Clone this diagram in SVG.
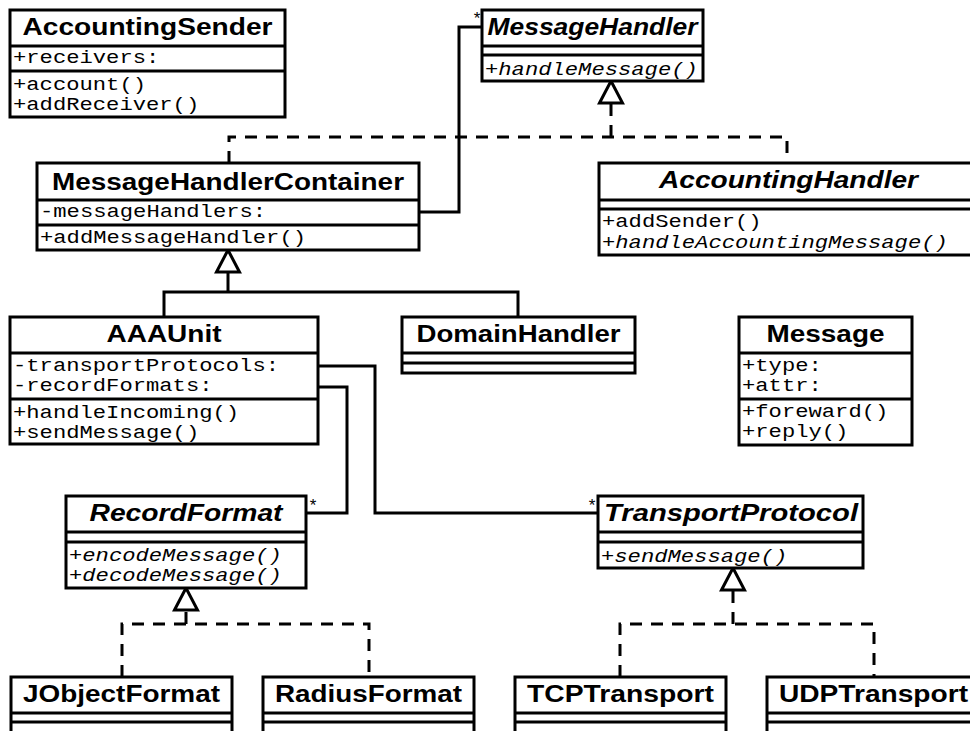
<svg xmlns="http://www.w3.org/2000/svg" width="970" height="731" viewBox="0 0 970 731">
  <style>
    .box { fill: #fff; stroke: #000; stroke-width: 3; }
    .sep { fill: none; stroke: #000; stroke-width: 3; }
    .title { font-family: "Liberation Sans", Arial, Helvetica, sans-serif; font-weight: bold; font-size: 23px; text-anchor: middle; fill: #000; }
    .abstract { font-style: italic; }
    .member { font-family: "Liberation Mono", "Courier New", monospace; font-size: 19px; fill: #000; }
    .assoc { fill: none; stroke: #000; stroke-width: 3; }
    .real { fill: none; stroke: #000; stroke-width: 3; stroke-dasharray: 12 9; }
    .stem { fill: none; stroke: #000; stroke-width: 3; marker-end: url(#hollow); }
    .stem-dash { fill: none; stroke: #000; stroke-width: 3; stroke-dasharray: 12 9; marker-end: url(#hollow); }
    .mult { font-family: "Liberation Sans", Arial, sans-serif; font-size: 17px; text-anchor: middle; fill: #000; }
  </style>
  <defs>
    <!-- hollow triangle for generalization / realization -->
    <marker id="hollow" markerUnits="userSpaceOnUse" viewBox="-2 -14 26 28" markerWidth="26" markerHeight="28" refX="22" refY="0" orient="auto" overflow="visible">
      <path d="M0,-11.5 L22,0 L0,11.5 Z" fill="#fff" stroke="#000" stroke-width="3" stroke-linejoin="miter"/>
    </marker>
  </defs>

  <rect width="970" height="731" fill="#fff"/>

  <g id="connectors">
    <!-- MessageHandlerContainer, AccountingHandler realize MessageHandler -->
    <path class="real" d="M229,163 V137 H787 V163"/>
    <path class="stem-dash" d="M611,137 V81"/>
    <!-- AAAUnit, DomainHandler extend MessageHandlerContainer -->
    <path class="assoc" d="M164,317 V292 H518 V317"/>
    <path class="stem" d="M228,292 V250"/>
    <!-- container holds many handlers -->
    <path class="assoc" d="M419,212 H459 V27 H482"/>
    <text class="mult" x="477" y="24">*</text>
    <!-- AAAUnit associations -->
    <path class="assoc" d="M318,366 H375 V513 H598"/>
    <text class="mult" x="592" y="511">*</text>
    <path class="assoc" d="M318,387 H347 V513 H306"/>
    <text class="mult" x="313" y="511">*</text>
    <!-- record format implementations -->
    <path class="real" d="M122,677 V624 H369 V677"/>
    <path class="stem-dash" d="M186,624 V588"/>
    <!-- transport implementations -->
    <path class="real" d="M620,677 V624 H874 V677"/>
    <path class="stem-dash" d="M733,624 V568"/>
  </g>

  <g id="AccountingSender">
    <rect class="box" x="10" y="10" width="275" height="107"/>
    <path class="sep" d="M10,46 H285 M10,71 H285"/>
    <text class="title" x="147.5" y="35" textLength="250" lengthAdjust="spacingAndGlyphs">AccountingSender</text>
    <text class="member" x="13" y="63" textLength="146.3" lengthAdjust="spacingAndGlyphs">+receivers:</text>
    <text class="member" x="13" y="90" textLength="133" lengthAdjust="spacingAndGlyphs">+account()</text>
    <text class="member" x="13" y="110" textLength="186.2" lengthAdjust="spacingAndGlyphs">+addReceiver()</text>
  </g>

  <g id="MessageHandler">
    <rect class="box" x="482" y="10" width="221" height="71"/>
    <path class="sep" d="M482,46 H703 M482,55 H703"/>
    <text class="title abstract" x="592.5" y="35" textLength="210" lengthAdjust="spacingAndGlyphs">MessageHandler</text>
    <text class="member abstract" x="485" y="75" textLength="212.8" lengthAdjust="spacingAndGlyphs">+handleMessage()</text>
  </g>

  <g id="MessageHandlerContainer">
    <rect class="box" x="37" y="163" width="382" height="87"/>
    <path class="sep" d="M37,200 H419 M37,225 H419"/>
    <text class="title" x="228" y="190" textLength="352" lengthAdjust="spacingAndGlyphs">MessageHandlerContainer</text>
    <text class="member" x="40" y="217" textLength="226.1" lengthAdjust="spacingAndGlyphs">-messageHandlers:</text>
    <text class="member" x="40" y="243" textLength="266" lengthAdjust="spacingAndGlyphs">+addMessageHandler()</text>
  </g>

  <g id="AccountingHandler">
    <rect class="box" x="599" y="163" width="379" height="92"/>
    <path class="sep" d="M599,200 H978 M599,209 H978"/>
    <text class="title abstract" x="788.5" y="188" textLength="259" lengthAdjust="spacingAndGlyphs">AccountingHandler</text>
    <text class="member" x="602" y="227" textLength="159.6" lengthAdjust="spacingAndGlyphs">+addSender()</text>
    <text class="member abstract" x="602" y="248" textLength="345.8" lengthAdjust="spacingAndGlyphs">+handleAccountingMessage()</text>
  </g>

  <g id="AAAUnit">
    <rect class="box" x="10" y="317" width="308" height="127"/>
    <path class="sep" d="M10,353 H318 M10,399 H318"/>
    <text class="title" x="164" y="342" textLength="115" lengthAdjust="spacingAndGlyphs">AAAUnit</text>
    <text class="member" x="13" y="371" textLength="266" lengthAdjust="spacingAndGlyphs">-transportProtocols:</text>
    <text class="member" x="13" y="391" textLength="199.5" lengthAdjust="spacingAndGlyphs">-recordFormats:</text>
    <text class="member" x="13" y="418" textLength="226.1" lengthAdjust="spacingAndGlyphs">+handleIncoming()</text>
    <text class="member" x="13" y="438" textLength="186.2" lengthAdjust="spacingAndGlyphs">+sendMessage()</text>
  </g>

  <g id="DomainHandler">
    <rect class="box" x="402" y="317" width="233" height="56"/>
    <path class="sep" d="M402,353 H635 M402,363 H635"/>
    <text class="title" x="518.5" y="342" textLength="204" lengthAdjust="spacingAndGlyphs">DomainHandler</text>
  </g>

  <g id="Message">
    <rect class="box" x="739" y="317" width="173" height="128"/>
    <path class="sep" d="M739,353 H912 M739,399 H912"/>
    <text class="title" x="825.5" y="342" textLength="118" lengthAdjust="spacingAndGlyphs">Message</text>
    <text class="member" x="742" y="371" textLength="79.8" lengthAdjust="spacingAndGlyphs">+type:</text>
    <text class="member" x="742" y="391" textLength="79.8" lengthAdjust="spacingAndGlyphs">+attr:</text>
    <text class="member" x="742" y="417" textLength="146.3" lengthAdjust="spacingAndGlyphs">+foreward()</text>
    <text class="member" x="742" y="437" textLength="106.4" lengthAdjust="spacingAndGlyphs">+reply()</text>
  </g>

  <g id="RecordFormat">
    <rect class="box" x="66" y="496" width="240" height="92"/>
    <path class="sep" d="M66,532 H306 M66,542 H306"/>
    <text class="title abstract" x="186" y="521" textLength="193" lengthAdjust="spacingAndGlyphs">RecordFormat</text>
    <text class="member abstract" x="69" y="561" textLength="212.8" lengthAdjust="spacingAndGlyphs">+encodeMessage()</text>
    <text class="member abstract" x="69" y="581" textLength="212.8" lengthAdjust="spacingAndGlyphs">+decodeMessage()</text>
  </g>

  <g id="TransportProtocol">
    <rect class="box" x="598" y="496" width="265" height="72"/>
    <path class="sep" d="M598,532 H863 M598,542 H863"/>
    <text class="title abstract" x="731" y="521" textLength="254" lengthAdjust="spacingAndGlyphs">TransportProtocol</text>
    <text class="member abstract" x="601" y="562" textLength="186.2" lengthAdjust="spacingAndGlyphs">+sendMessage()</text>
  </g>

  <g id="JObjectFormat">
    <rect class="box" x="11" y="677" width="221" height="80"/>
    <path class="sep" d="M11,713 H232 M11,722 H232"/>
    <text class="title" x="121.5" y="702" textLength="197" lengthAdjust="spacingAndGlyphs">JObjectFormat</text>
  </g>

  <g id="RadiusFormat">
    <rect class="box" x="263" y="677" width="211" height="80"/>
    <path class="sep" d="M263,713 H474 M263,722 H474"/>
    <text class="title" x="368.5" y="702" textLength="187" lengthAdjust="spacingAndGlyphs">RadiusFormat</text>
  </g>

  <g id="TCPTransport">
    <rect class="box" x="515" y="677" width="211" height="80"/>
    <path class="sep" d="M515,713 H726 M515,722 H726"/>
    <text class="title" x="620.5" y="702" textLength="187" lengthAdjust="spacingAndGlyphs">TCPTransport</text>
  </g>

  <g id="UDPTransport">
    <rect class="box" x="767" y="677" width="213" height="80"/>
    <path class="sep" d="M767,713 H980 M767,722 H980"/>
    <text class="title" x="873.5" y="702" textLength="189" lengthAdjust="spacingAndGlyphs">UDPTransport</text>
  </g>
</svg>
